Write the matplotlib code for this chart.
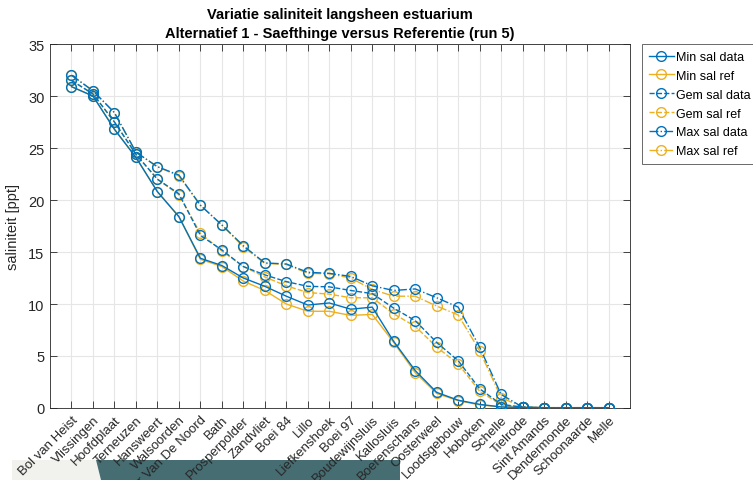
import matplotlib
matplotlib.use("Agg")
import matplotlib.pyplot as plt
from matplotlib.patches import Polygon

plt.rcParams['font.family'] = ['Liberation Sans', 'DejaVu Sans']

# meetstations langs de Schelde
stations = ["Bol van Heist", "Vlissingen", "Hoofdplaat", "Terneuzen", "Hansweert",
            "Walsoorden", "Schaar Van De Noord", "Bath", "Prosperpolder", "Zandvliet",
            "Boei 84", "Lillo", "Liefkenshoek", "Boei 97", "Boudewijnsluis",
            "Kallosluis", "Boerenschans", "Oosterweel", "Loodsgebouw", "Hoboken",
            "Schelle", "Tielrode", "Sint Amands", "Dendermonde", "Schoonaarde", "Melle"]

min_data = [30.9, 30.0, 26.8, 24.1, 20.8, 18.4, 14.4, 13.7, 12.5, 11.7, 10.75, 9.9, 10.1,
            9.5, 9.7, 6.4, 3.6, 1.5, 0.75, 0.35, 0.1, 0.05, 0.03, 0.03, 0.03, 0.03]
min_ref = [30.9, 30.0, 26.8, 24.1, 20.8, 18.4, 14.3, 13.6, 12.2, 11.3, 10.0, 9.3, 9.3,
           8.9, 9.0, 6.3, 3.4, 1.4, 0.7, 0.3, 0.1, 0.05, 0.03, 0.03, 0.03, 0.03]
gem_data = [31.5, 30.2, 27.5, 24.4, 22.0, 20.6, 16.6, 15.2, 13.6, 12.8, 12.15, 11.7, 11.65,
            11.3, 11.0, 9.6, 8.4, 6.3, 4.55, 1.85, 0.35, 0.08, 0.03, 0.03, 0.03, 0.03]
gem_ref = [31.5, 30.2, 27.5, 24.4, 22.0, 20.5, 16.8, 15.1, 13.6, 12.6, 11.75, 11.1, 10.95,
           10.6, 10.6, 9.05, 7.85, 5.85, 4.25, 1.6, 0.3, 0.08, 0.03, 0.03, 0.03, 0.03]
max_data = [32.0, 30.5, 28.4, 24.6, 23.2, 22.4, 19.5, 17.6, 15.6, 13.95, 13.85, 13.05, 12.95,
            12.65, 11.75, 11.3, 11.45, 10.6, 9.7, 5.85, 1.3, 0.08, 0.03, 0.03, 0.03, 0.03]
max_ref = [32.0, 30.5, 28.4, 24.6, 23.2, 22.3, 19.5, 17.6, 15.5, 13.9, 13.8, 12.95, 12.9,
           12.5, 11.4, 10.75, 10.75, 9.8, 8.95, 5.5, 1.0, 0.08, 0.03, 0.03, 0.03, 0.03]

BLUE = "#0072BD"
YELLOW = "#EDB120"

x = list(range(1, len(stations) + 1))

fig = plt.figure(figsize=(7.53, 4.81), dpi=100)
ax = fig.add_axes([0.0664, 0.1497, 0.7703, 0.7567])

style = dict(marker="o", markersize=7, markerfacecolor="none", linewidth=1.0,
             markeredgewidth=1.0)

# ref onder, data erboven
h1, = ax.plot(x, min_data, "-", color=BLUE, label="Min sal data", zorder=5, **style)
h2, = ax.plot(x, min_ref, "-", color=YELLOW, label="Min sal ref", zorder=3, **style)
h3, = ax.plot(x, gem_data, "--", color=BLUE, label="Gem sal data", zorder=5, **style)
h4, = ax.plot(x, gem_ref, "--", color=YELLOW, label="Gem sal ref", zorder=3, **style)
h5, = ax.plot(x, max_data, "-.", color=BLUE, label="Max sal data", zorder=5, **style)
h6, = ax.plot(x, max_ref, "-.", color=YELLOW, label="Max sal ref", zorder=3, **style)

ax.set_xlim(0, len(stations) + 1)
ax.set_ylim(0, 35)
ax.set_xticks(x)
ax.set_xticklabels(stations, rotation=45, ha="right", rotation_mode="anchor", fontsize=9.5)
ax.set_yticks(range(0, 36, 5))
ax.tick_params(axis="y", labelsize=10.5)
ax.tick_params(direction="in", top=True, right=True, length=5, width=0.6, colors="#262626",
               pad=4)
ax.grid(True, color="#e6e6e6", linewidth=0.8)
ax.set_axisbelow(True)
for sp in ax.spines.values():
    sp.set_color("#262626")
    sp.set_linewidth(0.6)

ax.set_ylabel("saliniteit [ppt]", fontsize=10.5, color="#262626", labelpad=6)
ax.set_title("Variatie saliniteit langsheen estuarium\n"
             "Alternatief 1 - Saefthinge versus Referentie (run 5)",
             fontsize=10.5, fontweight="bold", pad=5, linespacing=1.45)

leg = ax.legend(handles=[h1, h2, h3, h4, h5, h6], loc="upper left",
                bbox_to_anchor=(1.02, 1.0), fontsize=9, frameon=True, fancybox=False,
                handlelength=2.0, handletextpad=0.2, borderpad=0.55, labelspacing=0.55,
                borderaxespad=0)
leg.get_frame().set_edgecolor("#262626")
leg.get_frame().set_linewidth(0.6)

# overlay-balk onderaan het beeld (achter de tekst)
W, H = 753.0, 481.0
fig.patches.append(Polygon([(12 / W, 0), (12 / W, 20 / H), (96 / W, 20 / H), (101 / W, 0)],
                           closed=True, transform=fig.transFigure, facecolor="#f1f1ee",
                           edgecolor="none", zorder=-1))
fig.patches.append(Polygon([(101 / W, 0), (96 / W, 20 / H), (400 / W, 20 / H), (400 / W, 0)],
                           closed=True, transform=fig.transFigure, facecolor="#466d72",
                           edgecolor="none", zorder=-1))

fig.savefig("out.png", dpi=100)
